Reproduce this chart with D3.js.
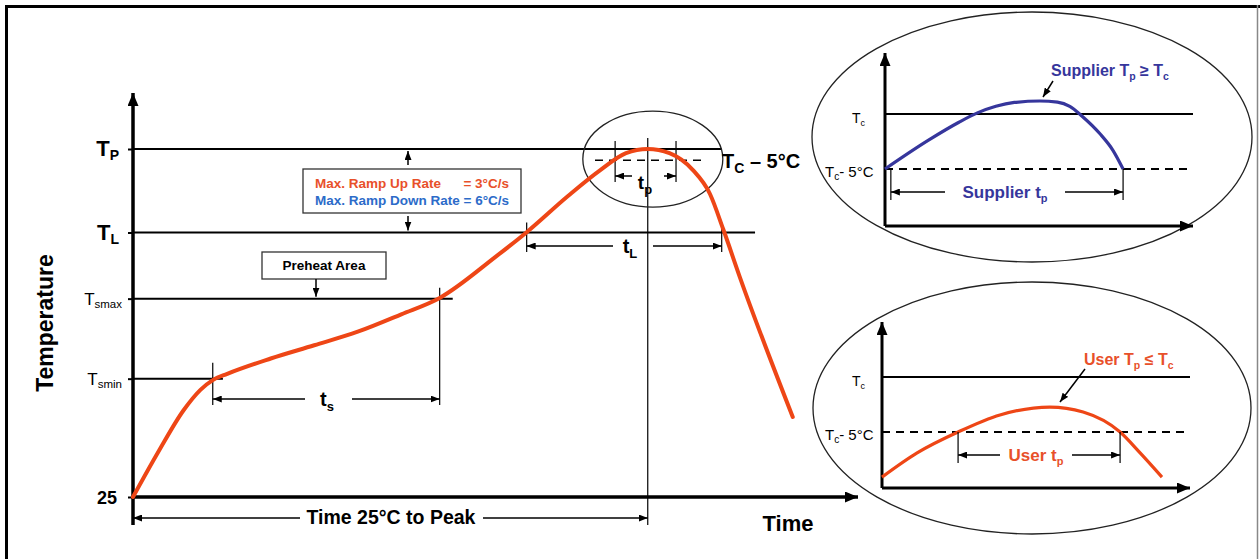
<!DOCTYPE html>
<html><head><meta charset="utf-8">
<script src="https://cdn.jsdelivr.net/npm/d3@7"></script>
<style>
body{margin:0;background:#fff}
svg{display:block}
text{font-family:"Liberation Sans",Arial,Helvetica,sans-serif}
</style>
</head><body>
<svg id="c" width="1260" height="559"></svg>
<script>
// ---------------- DATA ----------------
// Main reflow profile (time in arbitrary units 0..100, temperature in relative units, 25°C = 0, Tp = 100)
const levelValues = [0, 34, 57, 76, 100];
const levelLabels = [["25", ""], ["T", "smin"], ["T", "smax"], ["T", "L"], ["T", "P"]];
const levelLineEnd = [null, 12.4, 44.1, 85.8, 81.2];

const profileTime = [0, 3.5, 7.0, 9.3, 11.0, 13.0, 19, 25, 31, 37, 42.3, 50, 54.3, 60, 64.5, 68, 71, 74, 77.2, 79.6, 81.4, 83.7, 91.0];
const profileTemp = [0, 13, 25, 30.8, 33.6, 35.4, 39.8, 43.6, 47.5, 52.5, 57.2, 69, 76.1, 86.5, 94, 98.8, 100, 98.8, 94, 87, 77, 63.2, 23.0];

const tsStart = 11.0, tsEnd = 42.3;     // Tsmin -> Tsmax
const tLStart = 54.3, tLEnd = 81.2;     // above TL
const tpStart = 66.5, tpEnd = 74.9;     // within 5°C of Tc
const tPeak = 71.0;
const tcMinus5 = 96.8;

// Inset curves (temperature relative to Tc, in °C)
const supplierTime = [0, 14, 24, 30, 36, 42, 50.3, 56, 60, 64, 69.8, 74.0, 77.3];
const supplierTemp = [-5, -2.4, -0.75, 0.1, 0.7, 1.05, 1.18, 1.08, 0.7, -0.2, -1.8, -3.3, -5];
const supplierTp = [1.9, 77.3];

const userTime = [0, 11.4, 24.7, 38.3, 54.5, 65.3, 77.3, 83.8, 90.9];
const userTemp = [-9.1, -6.9, -5, -3.45, -2.73, -3.18, -5, -6.9, -9.1];
const userTp = [24.7, 77.3];

const insetLevels = [0, -5];

// ---------------- STYLE ----------------
const ORANGE = "#ee4616";
const ORANGE_TXT = "#e8502a";
const BLUE_TXT = "#2c6bc9";
const NAVY = "#36369c";

const svg = d3.select("#c");
const defs = svg.append("defs");
function marker(id, len, wid) {
  defs.append("marker").attr("id", id)
    .attr("viewBox", "0 0 10 10").attr("refX", 10).attr("refY", 5)
    .attr("markerWidth", len).attr("markerHeight", wid)
    .attr("markerUnits", "userSpaceOnUse").attr("preserveAspectRatio", "none")
    .attr("orient", "auto-start-reverse")
    .append("path").attr("d", "M0,0L10,5L0,10Z").attr("fill", "#000");
}
marker("ah", 9, 7);
marker("ahBig", 13, 11);

function line(g, x1, y1, x2, y2, o = {}) {
  const l = g.append("line").attr("x1", x1).attr("y1", y1).attr("x2", x2).attr("y2", y2)
    .attr("stroke", o.color || "#000").attr("stroke-width", o.w || 1.5);
  if (o.dash) l.attr("stroke-dasharray", o.dash);
  if (o.start) l.attr("marker-start", "url(#" + o.start + ")");
  if (o.end) l.attr("marker-end", "url(#" + o.end + ")");
  return l;
}
function subText(g, x, y, base, sub, o = {}) {
  const t = g.append("text").attr("x", x).attr("y", y)
    .attr("text-anchor", o.anchor || "start")
    .attr("font-size", o.size || 16).attr("font-weight", o.weight || "bold")
    .attr("fill", o.color || "#000");
  t.append("tspan").text(base);
  if (sub) t.append("tspan").attr("font-size", o.subSize || (o.size || 16) * 0.62)
    .attr("font-weight", o.subWeight || o.weight || "bold")
    .attr("dy", o.subDy || 4).text(sub);
  if (o.after) t.append("tspan").attr("dy", sub ? -(o.subDy || 4) : 0).text(o.after);
  return t;
}

// ---------------- FRAME ----------------
line(svg, 6.5, 5, 6.5, 559, {w: 3});
line(svg, 5, 6.5, 1260, 6.5, {w: 3});
line(svg, 1257.5, 5, 1257.5, 559, {w: 1.5, color: "#888"});

// ---------------- MAIN CHART ----------------
const x = d3.scaleLinear().domain([0, 100]).range([133, 858]);
const y = d3.scaleLinear().domain([0, 100]).range([497, 149]);
const g = svg.append("g");

levelValues.forEach((v, i) => {
  if (levelLineEnd[i] != null) line(g, x(0), y(v), x(levelLineEnd[i]), y(v), {w: 2});
});

const yAxis = d3.axisLeft(y).tickValues(levelValues).tickSize(5).tickFormat("");
const ya = g.append("g").attr("transform", `translate(${x(0)},0)`).call(yAxis);
ya.select(".domain").remove();
ya.selectAll(".tick line").attr("stroke", "#000").attr("stroke-width", 2);

levelValues.forEach((v, i) => {
  const [b, s] = levelLabels[i];
  if (i === 0) subText(g, 117, y(v) + 7, b, "", {anchor: "end", size: 18});
  else if (i >= 3) subText(g, 119, y(v) + 7, b, s, {anchor: "end", size: 22, subSize: 14, subDy: 4});
  else subText(g, 122, y(v) + 6, b, s, {anchor: "end", size: 17, weight: "normal", subSize: 11.5, subDy: 3});
});

line(g, x(0), 525, x(0), 93, {w: 3.5, end: "ahBig"});
line(g, x(0), y(0), x(100), y(0), {w: 3.5, end: "ahBig"});

g.append("text").attr("transform", "translate(53,323) rotate(-90)").attr("text-anchor", "middle")
  .attr("font-size", 23).attr("font-weight", "bold").text("Temperature");
g.append("text").attr("x", 788).attr("y", 531).attr("text-anchor", "middle")
  .attr("font-size", 22).attr("font-weight", "bold").text("Time");

// Time 25°C to Peak
line(g, x(tPeak), 138, x(tPeak), 525, {w: 1.2});
line(g, x(0), 518, 300, 518, {w: 1.5, start: "ah"});
line(g, 483, 518, x(tPeak), 518, {w: 1.5, end: "ah"});
g.append("text").attr("x", 391).attr("y", 524).attr("text-anchor", "middle")
  .attr("font-size", 19.5).attr("font-weight", "bold").text("Time 25°C to Peak");

// ts
line(g, x(tsStart), y(levelValues[1]) - 16, x(tsStart), 405, {w: 1.2});
line(g, x(tsEnd), y(levelValues[2]) - 11, x(tsEnd), 405, {w: 1.2});
line(g, x(tsStart), 399, 305, 399, {w: 1.5, start: "ah"});
line(g, 352, 399, x(tsEnd), 399, {w: 1.5, end: "ah"});
subText(g, 327, 406, "t", "s", {anchor: "middle", size: 20, subSize: 13, subDy: 5});

// tL
line(g, x(tLStart), y(levelValues[3]) - 10, x(tLStart), 252, {w: 1.2});
line(g, x(tLEnd), y(levelValues[3]) - 10, x(tLEnd), 252, {w: 1.2});
line(g, x(tLStart), 246, 613, 246, {w: 1.5, start: "ah"});
line(g, 653, 246, x(tLEnd), 246, {w: 1.5, end: "ah"});
subText(g, 630, 253, "t", "L", {anchor: "middle", size: 20, subSize: 13, subDy: 5});

// peak detail
g.append("ellipse").attr("cx", x(71.7)).attr("cy", y(97.1)).attr("rx", 70).attr("ry", 48)
  .attr("fill", "none").attr("stroke", "#222").attr("stroke-width", 1.3);
line(g, 595, y(tcMinus5), 703, y(tcMinus5), {w: 1.5, dash: "8,6"});
line(g, x(tpStart), 141, x(tpStart), 182, {w: 1.2});
line(g, x(tpEnd), 141, x(tpEnd), 182, {w: 1.2});
line(g, x(tpStart), 176, 632, 176, {w: 1.5, start: "ah"});
line(g, 664, 176, x(tpEnd), 176, {w: 1.5, end: "ah"});
subText(g, 645, 189, "t", "p", {anchor: "middle", size: 19, subSize: 13, subDy: 5});
subText(g, 722, 168, "T", "C", {size: 20, subSize: 14, subDy: 5, after: " – 5°C"});

// ramp rate box
g.append("rect").attr("x", 303).attr("y", 169).attr("width", 218).attr("height", 44)
  .attr("fill", "#fff").attr("stroke", "#333").attr("stroke-width", 1.3);
g.append("text").attr("x", 315).attr("y", 188).attr("font-size", 13.5).attr("font-weight", "bold")
  .attr("fill", ORANGE_TXT).text("Max. Ramp Up Rate");
g.append("text").attr("x", 509).attr("y", 188).attr("text-anchor", "end").attr("font-size", 13.5)
  .attr("font-weight", "bold").attr("fill", ORANGE_TXT).text("= 3°C/s");
g.append("text").attr("x", 315).attr("y", 205).attr("font-size", 13.5).attr("font-weight", "bold")
  .attr("fill", BLUE_TXT).text("Max. Ramp Down Rate = 6°C/s");
line(g, 408, 165, 408, y(levelValues[4]) + 2, {w: 1.5, end: "ah"});
line(g, 408, 216, 408, y(levelValues[3]) - 2, {w: 1.5, end: "ah"});

// preheat box
g.append("rect").attr("x", 262).attr("y", 252).attr("width", 124).attr("height", 27)
  .attr("fill", "#fff").attr("stroke", "#333").attr("stroke-width", 1.3);
g.append("text").attr("x", 324).attr("y", 270).attr("text-anchor", "middle").attr("font-size", 13.5)
  .attr("font-weight", "bold").text("Preheat Area");
line(g, 316, 279, 316, y(levelValues[2]) - 2, {w: 1.5, end: "ah"});

// profile curve
const profile = profileTime.map((t, i) => [t, profileTemp[i]]);
g.append("path").datum(profile)
  .attr("d", d3.line().x(d => x(d[0])).y(d => y(d[1])).curve(d3.curveMonotoneX))
  .attr("fill", "none").attr("stroke", ORANGE).attr("stroke-width", 4).attr("stroke-linecap", "round");

// ---------------- INSETS ----------------
function inset(cfg) {
  const gi = svg.append("g");
  gi.append("ellipse").attr("cx", cfg.cx).attr("cy", cfg.cy).attr("rx", cfg.rx).attr("ry", cfg.ry)
    .attr("fill", "none").attr("stroke", "#222").attr("stroke-width", 1.3);
  const xi = d3.scaleLinear().domain([0, 100]).range([cfg.x0, cfg.x1]);
  const yi = d3.scaleLinear().domain([-5, 0]).range([cfg.y5, cfg.yc]);
  line(gi, cfg.x0, yi(insetLevels[0]), cfg.x1, yi(insetLevels[0]), {w: 1.8});
  line(gi, cfg.x0, yi(insetLevels[1]), cfg.x1, yi(insetLevels[1]), {w: 1.8, dash: "8,6"});
  line(gi, cfg.x0, cfg.yb, cfg.x0, cfg.yt, {w: 3, end: "ahBig"});
  line(gi, cfg.x0, cfg.yb, cfg.x1, cfg.yb, {w: 3, end: "ahBig"});
  subText(gi, 852, yi(0) + 9, "T", "c", {size: 14, weight: "normal", subSize: 9, subDy: 3});
  subText(gi, 825, yi(-5) + 8, "T", "c", {size: 15, weight: "normal", subSize: 10, subDy: 3, after: "- 5°C"});
  const data = cfg.t.map((t, i) => [t, cfg.v[i]]);
  gi.append("path").datum(data)
    .attr("d", d3.line().x(d => xi(d[0])).y(d => yi(d[1])).curve(d3.curveMonotoneX))
    .attr("fill", "none").attr("stroke", cfg.color).attr("stroke-width", 3.2);
  const [a, b] = cfg.tp;
  line(gi, xi(a), yi(-5), xi(a), yi(-5) + 31, {w: 1.2});
  line(gi, xi(b), yi(-5), xi(b), yi(-5) + 31, {w: 1.2});
  line(gi, xi(a), yi(-5) + 23, cfg.gap[0], yi(-5) + 23, {w: 1.5, start: "ah"});
  line(gi, cfg.gap[1], yi(-5) + 23, xi(b), yi(-5) + 23, {w: 1.5, end: "ah"});
  subText(gi, (cfg.gap[0] + cfg.gap[1]) / 2, yi(-5) + 29, cfg.tpLabel, "p",
    {anchor: "middle", size: 17, subSize: 11, subDy: 4, color: cfg.textColor});
  const lt = gi.append("text").attr("x", cfg.lx).attr("y", cfg.ly).attr("font-size", 16)
    .attr("font-weight", "bold").attr("fill", cfg.textColor);
  lt.append("tspan").text(cfg.label[0] + " T");
  lt.append("tspan").attr("font-size", 10.5).attr("dy", 4).text("p");
  lt.append("tspan").attr("dy", -4).text(" " + cfg.label[1] + " T");
  lt.append("tspan").attr("font-size", 10.5).attr("dy", 4).text("c");
  line(gi, cfg.ptr[0], cfg.ptr[1], cfg.ptr[2], cfg.ptr[3], {w: 1.5, end: "ah"});
}

inset({cx: 1032, cy: 137, rx: 220, ry: 125, x0: 885, x1: 1193, yc: 114, y5: 169, yb: 226, yt: 53,
  t: supplierTime, v: supplierTemp, tp: supplierTp, color: NAVY, textColor: NAVY,
  gap: [945, 1065], tpLabel: "Supplier t", label: ["Supplier", "≥"], lx: 1051, ly: 76,
  ptr: [1053, 81, 1043, 97]});
inset({cx: 1032, cy: 408, rx: 219, ry: 126, x0: 882, x1: 1190, yc: 377, y5: 432, yb: 488, yt: 322,
  t: userTime, v: userTemp, tp: userTp, color: ORANGE, textColor: ORANGE_TXT,
  gap: [1000, 1072], tpLabel: "User t", label: ["User", "≤"], lx: 1084, ly: 365,
  ptr: [1085, 369, 1060, 402]});
</script>
</body></html>
